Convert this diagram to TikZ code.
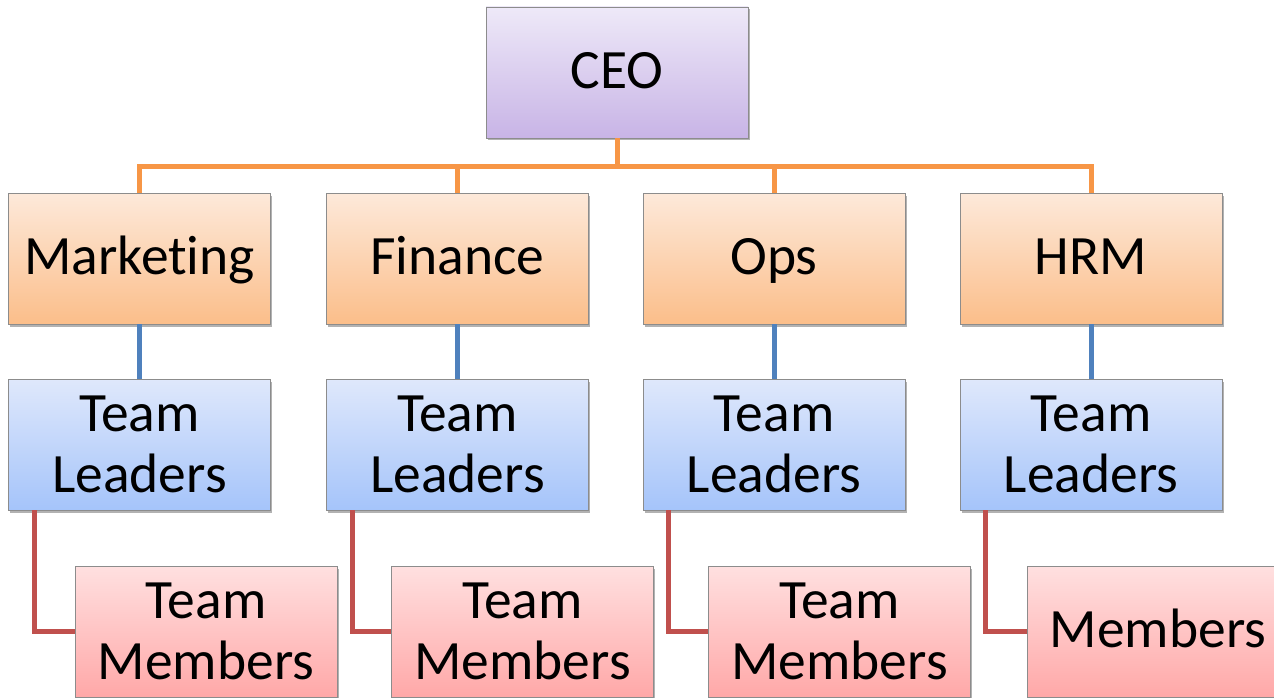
\documentclass[tikz,border=0pt]{standalone}
\usepackage{fontspec}
\setmainfont[Ligatures={NoCommon}]{Carlito}
\usetikzlibrary{shadows}
\definecolor{lineorange}{HTML}{F79646}
\definecolor{lineblue}{HTML}{4F81BD}
\definecolor{linered}{HTML}{C0504D}
\definecolor{ceotop}{HTML}{EEE9F8}
\definecolor{ceobot}{HTML}{C8B4E6}
\definecolor{depttop}{HTML}{FDE9DA}
\definecolor{deptbot}{HTML}{FBBE8A}
\definecolor{leadtop}{HTML}{DFE8FB}
\definecolor{leadbot}{HTML}{A5C4FA}
\definecolor{memtop}{HTML}{FFE0E0}
\definecolor{membot}{HTML}{FFA8A8}
\begin{document}
\begin{tikzpicture}[x=1pt,y=-1pt,
  box/.style={draw=black!45, line width=0.8pt, minimum width=262pt, minimum height=131pt,
    inner sep=0pt, align=center, font=\fontsize{55.5}{61}\selectfont,
    drop shadow={shadow xshift=1.5pt, shadow yshift=-2.5pt, opacity=0.3, fill=black}},
  oneline/.style={text height=40pt, text depth=8pt},
  ceobox/.style={box, oneline, top color=ceotop, bottom color=ceobot},
  deptbox/.style={box, oneline, top color=depttop, bottom color=deptbot},
  leadbox/.style={box, top color=leadtop, bottom color=leadbot},
  membox/.style={box, top color=memtop, bottom color=membot},
  oline/.style={draw=lineorange, line width=5pt},
  bline/.style={draw=lineblue, line width=5pt},
  rline/.style={draw=linered, line width=5pt}]
\useasboundingbox (0,0) rectangle (1274,698);
\clip (0,0) rectangle (1274,698);
\fill[white] (0,0) rectangle (1274,698);
\coordinate (bus) at (617,166);
\node[ceobox] (ceo) at (617,72.5) {CEO};
\foreach \n/\x/\t in {mkt/139.5/Marketing, fin/457.5/Finance, ops/774/Ops, hrm/1091/HRM}{
  \node[deptbox] (\n) at (\x,258.5) {\t};
}
\foreach \n/\x in {mkt/139.5, fin/457.5, ops/774, hrm/1091}{
  \node[leadbox] (\n-tl) at (\x,444.5) {Team\\Leaders};
}
\node[membox] (mkt-m) at (206,631.5) {Team\\Members};
\node[membox] (fin-m) at (522.5,631.5) {Team\\Members};
\node[membox] (ops-m) at (839.5,631.5) {Team\\Members};
\node[membox, oneline] (hrm-m) at (1158,631.5) {Members};
\foreach \n in {mkt, fin, ops, hrm}{
  \draw[oline] (\n.north) -- (\n.north |- bus) -- (bus);
  \draw[bline] (\n.south) -- (\n-tl.north);
  \draw[rline] ([xshift=26pt]\n-tl.south west) |- (\n-m.west);
}
\draw[oline] (ceo.south) -- (bus);
\end{tikzpicture}
\end{document}
